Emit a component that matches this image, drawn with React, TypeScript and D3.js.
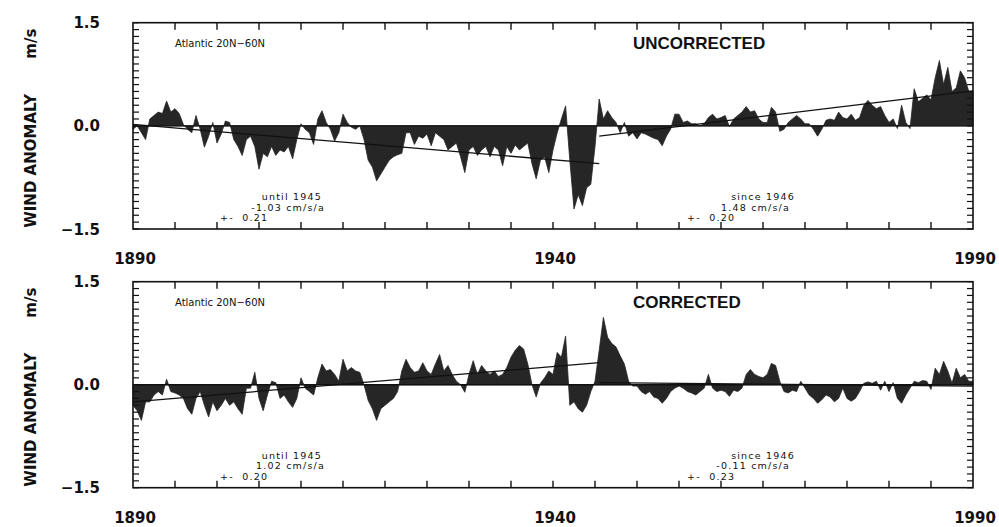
import React from "react";
import * as d3 from "d3";

const width = 999,
  height = 527;

// half-yearly values, starting 1890.0, step 0.5 yr, ending 1990.0
const startYear = 1890;
const step = 0.5;

const uncorrected = [
  -0.05, 0.0, -0.1, -0.2, 0.1, 0.15, 0.2, 0.18, 0.36, 0.2, // 1890-1894
  0.25, 0.18, 0.02, -0.05, -0.1, 0.15, -0.05, -0.31, -0.15, 0.05, // 1895-1899
  -0.25, -0.12, 0.07, 0.05, -0.2, -0.3, -0.43, -0.2, -0.15, -0.3, // 1900-1904
  -0.63, -0.4, -0.45, -0.3, -0.43, -0.35, -0.38, -0.3, -0.48, -0.2, // 1905-1909
  0.03, -0.05, -0.1, -0.27, 0.1, 0.22, 0.05, -0.05, -0.22, -0.1, // 1910-1914
  0.17, 0.05, -0.02, -0.05, 0.0, -0.2, -0.5, -0.6, -0.8, -0.7, // 1915-1919
  -0.6, -0.5, -0.45, -0.42, -0.4, -0.1, -0.1, -0.27, -0.15, -0.18, // 1920-1924
  -0.12, -0.29, -0.1, -0.15, -0.2, -0.35, -0.3, -0.25, -0.45, -0.68, // 1925-1929
  -0.35, -0.3, -0.43, -0.35, -0.3, -0.45, -0.3, -0.35, -0.58, -0.3, // 1930-1934
  -0.4, -0.28, -0.35, -0.3, -0.25, -0.55, -0.77, -0.5, -0.45, -0.68, // 1935-1939
  -0.35, -0.1, 0.1, 0.29, -0.5, -1.21, -1.0, -1.16, -0.9, -0.85, // 1940-1944
  -0.3, 0.39, 0.1, 0.22, 0.12, 0.05, -0.1, 0.05, -0.15, -0.1, // 1945-1949
  -0.19, -0.1, -0.12, -0.15, -0.18, -0.2, -0.29, -0.15, -0.05, 0.17, // 1950-1954
  0.17, 0.05, 0.07, 0.03, 0.03, 0.0, 0.03, 0.12, 0.17, 0.1, // 1955-1959
  0.12, 0.15, -0.01, 0.1, 0.15, 0.2, 0.28, 0.2, 0.22, 0.1, // 1960-1964
  0.05, 0.05, 0.27, 0.2, -0.08, -0.05, 0.05, 0.1, 0.15, 0.1, // 1965-1969
  0.03, 0.03, -0.05, -0.15, -0.05, 0.08, 0.1, 0.08, 0.2, 0.12, // 1970-1974
  0.1, 0.17, 0.08, 0.12, 0.3, 0.37, 0.3, 0.25, 0.28, 0.15, // 1975-1979
  0.05, 0.1, -0.04, 0.3, 0.05, -0.04, 0.54, 0.35, 0.4, 0.45, // 1980-1984
  0.38, 0.7, 0.95, 0.6, 0.85, 0.5, 0.55, 0.8, 0.7, 0.5, // 1985-1989
  0.5, // 1990
];

const corrected = [
  -0.3, -0.38, -0.52, -0.25, -0.25, -0.15, -0.1, -0.15, 0.08, -0.1, // 1890-1894
  -0.12, -0.15, -0.2, -0.35, -0.43, -0.2, -0.1, -0.3, -0.47, -0.25, // 1895-1899
  -0.38, -0.3, -0.2, -0.3, -0.25, -0.35, -0.43, -0.05, -0.05, 0.18, // 1900-1904
  -0.2, -0.38, -0.15, 0.05, 0.03, -0.2, -0.15, -0.25, -0.33, -0.2, // 1905-1909
  0.1, -0.05, -0.1, -0.15, 0.1, 0.3, 0.2, 0.22, 0.15, 0.05, // 1910-1914
  0.37, 0.2, 0.25, 0.2, 0.18, 0.0, -0.23, -0.35, -0.52, -0.35, // 1915-1919
  -0.3, -0.25, -0.2, -0.1, 0.2, 0.37, 0.25, 0.18, 0.2, 0.32, // 1920-1924
  0.2, 0.15, 0.3, 0.44, 0.2, 0.28, 0.15, 0.05, 0.0, -0.11, // 1925-1929
  0.15, 0.35, 0.15, 0.28, 0.2, 0.15, 0.2, 0.12, 0.15, 0.25, // 1930-1934
  0.4, 0.5, 0.57, 0.52, 0.3, 0.0, -0.18, 0.02, 0.1, 0.2, // 1935-1939
  0.15, 0.47, 0.4, 0.71, -0.3, -0.25, -0.35, -0.4, -0.3, -0.1, // 1940-1944
  0.05, 0.5, 0.98, 0.69, 0.6, 0.55, 0.42, 0.3, 0.05, -0.02, // 1945-1949
  -0.02, -0.1, -0.14, -0.1, -0.18, -0.2, -0.27, -0.2, -0.1, -0.05, // 1950-1954
  -0.02, -0.05, -0.1, -0.12, -0.15, -0.1, -0.05, 0.15, -0.05, -0.1, // 1955-1959
  -0.08, -0.1, -0.17, -0.08, -0.1, -0.05, 0.15, 0.22, 0.15, 0.12, // 1960-1964
  0.1, 0.15, 0.31, 0.28, 0.05, -0.1, -0.12, -0.08, -0.1, 0.05, // 1965-1969
  -0.05, -0.15, -0.2, -0.27, -0.22, -0.15, -0.18, -0.25, -0.2, -0.05, // 1970-1974
  -0.2, -0.24, -0.2, -0.1, 0.02, 0.04, 0.02, 0.05, -0.08, 0.05, // 1975-1979
  -0.1, 0.03, -0.2, -0.27, -0.15, -0.05, 0.05, 0.03, 0.06, 0.05, // 1980-1984
  -0.07, 0.24, 0.15, 0.34, 0.2, 0.02, 0.24, 0.1, 0.15, 0.05, // 1985-1989
  0.05, // 1990
];

// trend segments: [yearFrom, valueFrom, yearTo, valueTo]
const trendUncorrected = [
  [1890, 0.02, 1945.5, -0.55],
  [1945.5, -0.15, 1990, 0.51],
];
const trendCorrected = [
  [1890, -0.25, 1945.5, 0.32],
  [1945.5, 0.03, 1990, -0.02],
];

const notesUncorrected = [
  ["until 1945", "-1.03 cm/s/a", "+-\u00a0\u00a00.21"],
  ["since 1946", "1.48 cm/s/a", "+-\u00a0\u00a00.20"],
];
const notesCorrected = [
  ["until 1945", "1.02 cm/s/a", "+-\u00a0\u00a00.20"],
  ["since 1946", "-0.11 cm/s/a", "+-\u00a0\u00a00.23"],
];

const yLabels = [1.5, 0.0, -1.5];
const xLabels = [1890, 1940, 1990];

const panels = [
  { title: "UNCORRECTED", values: uncorrected, trend: trendUncorrected, notes: notesUncorrected, top: 22.7, bottom: 229 },
  { title: "CORRECTED", values: corrected, trend: trendCorrected, notes: notesCorrected, top: 281.7, bottom: 487.7 },
];

const x = d3.scaleLinear().domain([1890, 1990]).range([133, 973]);
const bold = "'DejaVu Sans', sans-serif";
const small = "'DejaVu Sans', sans-serif";

function Panel({ p }) {
  const y = d3.scaleLinear().domain([-1.5, 1.5]).range([p.bottom, p.top]);
  const area = d3
    .area()
    .x((d, i) => x(startYear + i * step))
    .y0(y(0))
    .y1(d => y(d));
  const xTicks = d3.range(1895, 1990, 5);
  const yTicks = d3.range(-15, 16).map(v => v / 10);
  const mid = (p.top + p.bottom) / 2;
  const noteX = [[322, 325, 220], [795, 790, 687]];
  const noteAnchor = ["end", "end", "start"];
  return (
    <g>
      <path d={area(p.values)} fill="#262626" stroke="#262626" strokeWidth={0.8} />
      <line x1={x(1890)} x2={x(1990)} y1={y(0)} y2={y(0)} stroke="#111" strokeWidth={1.4} />
      {p.trend.map((t, i) => (
        <line key={i} x1={x(t[0])} y1={y(t[1])} x2={x(t[2])} y2={y(t[3])} stroke="#111" strokeWidth={1.3} />
      ))}
      <rect x={x(1890)} y={p.top} width={x(1990) - x(1890)} height={p.bottom - p.top} fill="none" stroke="#111" strokeWidth={1.6} />
      {xTicks.map(t => (
        <g key={t}>
          <line x1={x(t)} x2={x(t)} y1={p.top} y2={p.top + 7} stroke="#111" strokeWidth={1.4} />
          <line x1={x(t)} x2={x(t)} y1={p.bottom} y2={p.bottom - 7} stroke="#111" strokeWidth={1.4} />
        </g>
      ))}
      {yTicks.map(t => (
        <g key={t}>
          <line x1={x(1890)} x2={x(1890) + 6} y1={y(t)} y2={y(t)} stroke="#111" strokeWidth={1.2} />
          <line x1={x(1990)} x2={x(1990) - 6} y1={y(t)} y2={y(t)} stroke="#111" strokeWidth={1.2} />
        </g>
      ))}
      {yLabels.map(v => (
        <text key={v} x={100} y={y(v) + 5.5} textAnchor="end" fontFamily={bold} fontWeight="bold" fontSize={15} fill="#111">
          {v === 0 ? "0.0" : v > 0 ? v.toFixed(1) : "\u2212" + Math.abs(v).toFixed(1)}
        </text>
      ))}
      {xLabels.map(v => (
        <text key={v} x={x(v) + 2} y={p.bottom + 35} textAnchor="middle" fontFamily={bold} fontWeight="bold" fontSize={15} fill="#111">
          {v}
        </text>
      ))}
      <text transform={`translate(36,${mid + 35}) rotate(-90)`} textAnchor="middle" fontFamily={bold} fontWeight="bold" fontSize={15} fill="#111">
        WIND ANOMALY
      </text>
      <text transform={`translate(36,${p.top + 21}) rotate(-90)`} textAnchor="middle" fontFamily={bold} fontWeight="bold" fontSize={15} fill="#111">
        m/s
      </text>
      <text x={175} y={p.top + 24} fontFamily={small} fontSize={10} fill="#111">
        Atlantic 20N{"\u2212"}60N
      </text>
      <text x={633} y={p.top + 26} fontFamily="'Liberation Sans', Arial, sans-serif" fontWeight="bold" fontSize={17} fill="#111">
        {p.title}
      </text>
      {p.notes.map((n, j) =>
        n.map((s, k) => (
          <text key={j + "-" + k} x={noteX[j][k]} y={p.bottom - 29 + k * 10.5} textAnchor={noteAnchor[k]} fontFamily={small} fontSize={9.5} letterSpacing={1.2} fill="#111">
            {s}
          </text>
        ))
      )}
    </g>
  );
}

export default function App() {
  return (
    <svg width={width} height={height} style={{ position: "absolute", left: 0, top: 0, background: "#fff" }}>
      {panels.map(p => (
        <Panel key={p.title} p={p} />
      ))}
    </svg>
  );
}
